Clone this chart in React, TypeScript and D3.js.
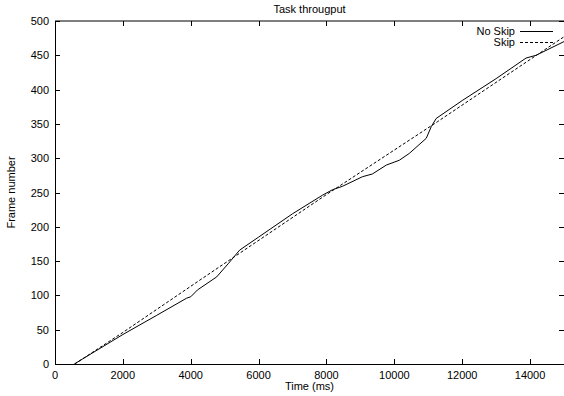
import React from "react";
import * as d3 from "d3";

const title = "Task througput";
const xLabel = "Time (ms)";
const yLabel = "Frame number";
const seriesNames = ["No Skip", "Skip"];
const xTicks = [0, 2000, 4000, 6000, 8000, 10000, 12000, 14000];
const yTicks = [0, 50, 100, 150, 200, 250, 300, 350, 400, 450, 500];

const noSkipTime = [570, 1000, 2000, 3000, 3880, 4000, 4200, 4765, 5118, 5441, 6000, 7000, 7880, 8176, 8470, 9059, 9353, 9765, 10147, 10441, 10941, 11088, 11235, 12000, 13000, 13882, 14176, 15000];
const noSkipFrames = [0, 13, 43, 71, 96, 98, 108, 127, 147, 166, 185, 219, 246, 254, 259, 273, 277, 290, 297, 307, 329, 346, 358, 384, 416, 446, 450, 470];

const skipTime = [580, 2000, 4200, 8000, 11265, 15000];
const skipFrames = [0, 46, 120, 247, 353, 477];

export default function App() {
  const W = 564, H = 396;
  const left = 55, right = 564, top = 21, bottom = 364;
  const x = d3.scaleLinear().domain([0, 15000]).range([left, right]);
  const y = d3.scaleLinear().domain([0, 500]).range([bottom, top]);
  const line = d3.line<[number, number]>().x(d => x(d[0])).y(d => y(d[1]));
  const noSkip = noSkipTime.map((t, i) => [t, noSkipFrames[i]] as [number, number]);
  const skip = skipTime.map((t, i) => [t, skipFrames[i]] as [number, number]);
  const font = "'Liberation Sans', Arial, sans-serif";
  const fs = 11;
  return (
    <div style={{ position: "absolute", left: 0, top: 0 }}>
      <svg width={W} height={H} style={{ display: "block" }} fontFamily={font} fontSize={fs}>
        <rect x={0} y={0} width={W} height={H} fill="#fff" />
        {xTicks.map(t => (
          <g key={"xt" + t}>
            <line x1={Math.round(x(t)) + 0.5} x2={Math.round(x(t)) + 0.5} y1={bottom} y2={bottom - 5} stroke="#000" />
            <line x1={Math.round(x(t)) + 0.5} x2={Math.round(x(t)) + 0.5} y1={top} y2={top + 5} stroke="#000" />
            <text x={x(t)} y={379} textAnchor="middle">{t}</text>
          </g>
        ))}
        {yTicks.map(v => (
          <g key={"yt" + v}>
            <line x1={left} x2={left + 5} y1={Math.round(y(v)) + 0.5} y2={Math.round(y(v)) + 0.5} stroke="#000" />
            <line x1={right} x2={right - 5} y1={Math.round(y(v)) + 0.5} y2={Math.round(y(v)) + 0.5} stroke="#000" />
            <text x={49} y={y(v) + 4} textAnchor="end">{v}</text>
          </g>
        ))}
        <rect x={left + 0.5} y={top} width={right - left} height={bottom - top + 0.5} fill="none" stroke="#000" />
        <path d={line(noSkip) || ""} fill="none" stroke="#000" strokeWidth={1} />
        <path d={line(skip) || ""} fill="none" stroke="#000" strokeWidth={1} strokeDasharray="3,2" />
        <text x={(left + right) / 2} y={13} textAnchor="middle">{title}</text>
        <text x={(left + right) / 2} y={390} textAnchor="middle">{xLabel}</text>
        <text transform={`translate(15,${(top + bottom) / 2}) rotate(-90)`} textAnchor="middle">{yLabel}</text>
        <text x={515} y={35} textAnchor="end">{seriesNames[0]}</text>
        <line x1={520} x2={553} y1={31.5} y2={31.5} stroke="#000" />
        <text x={515} y={46} textAnchor="end">{seriesNames[1]}</text>
        <line x1={520} x2={553} y1={42.5} y2={42.5} stroke="#000" strokeDasharray="3,2" />
      </svg>
    </div>
  );
}
